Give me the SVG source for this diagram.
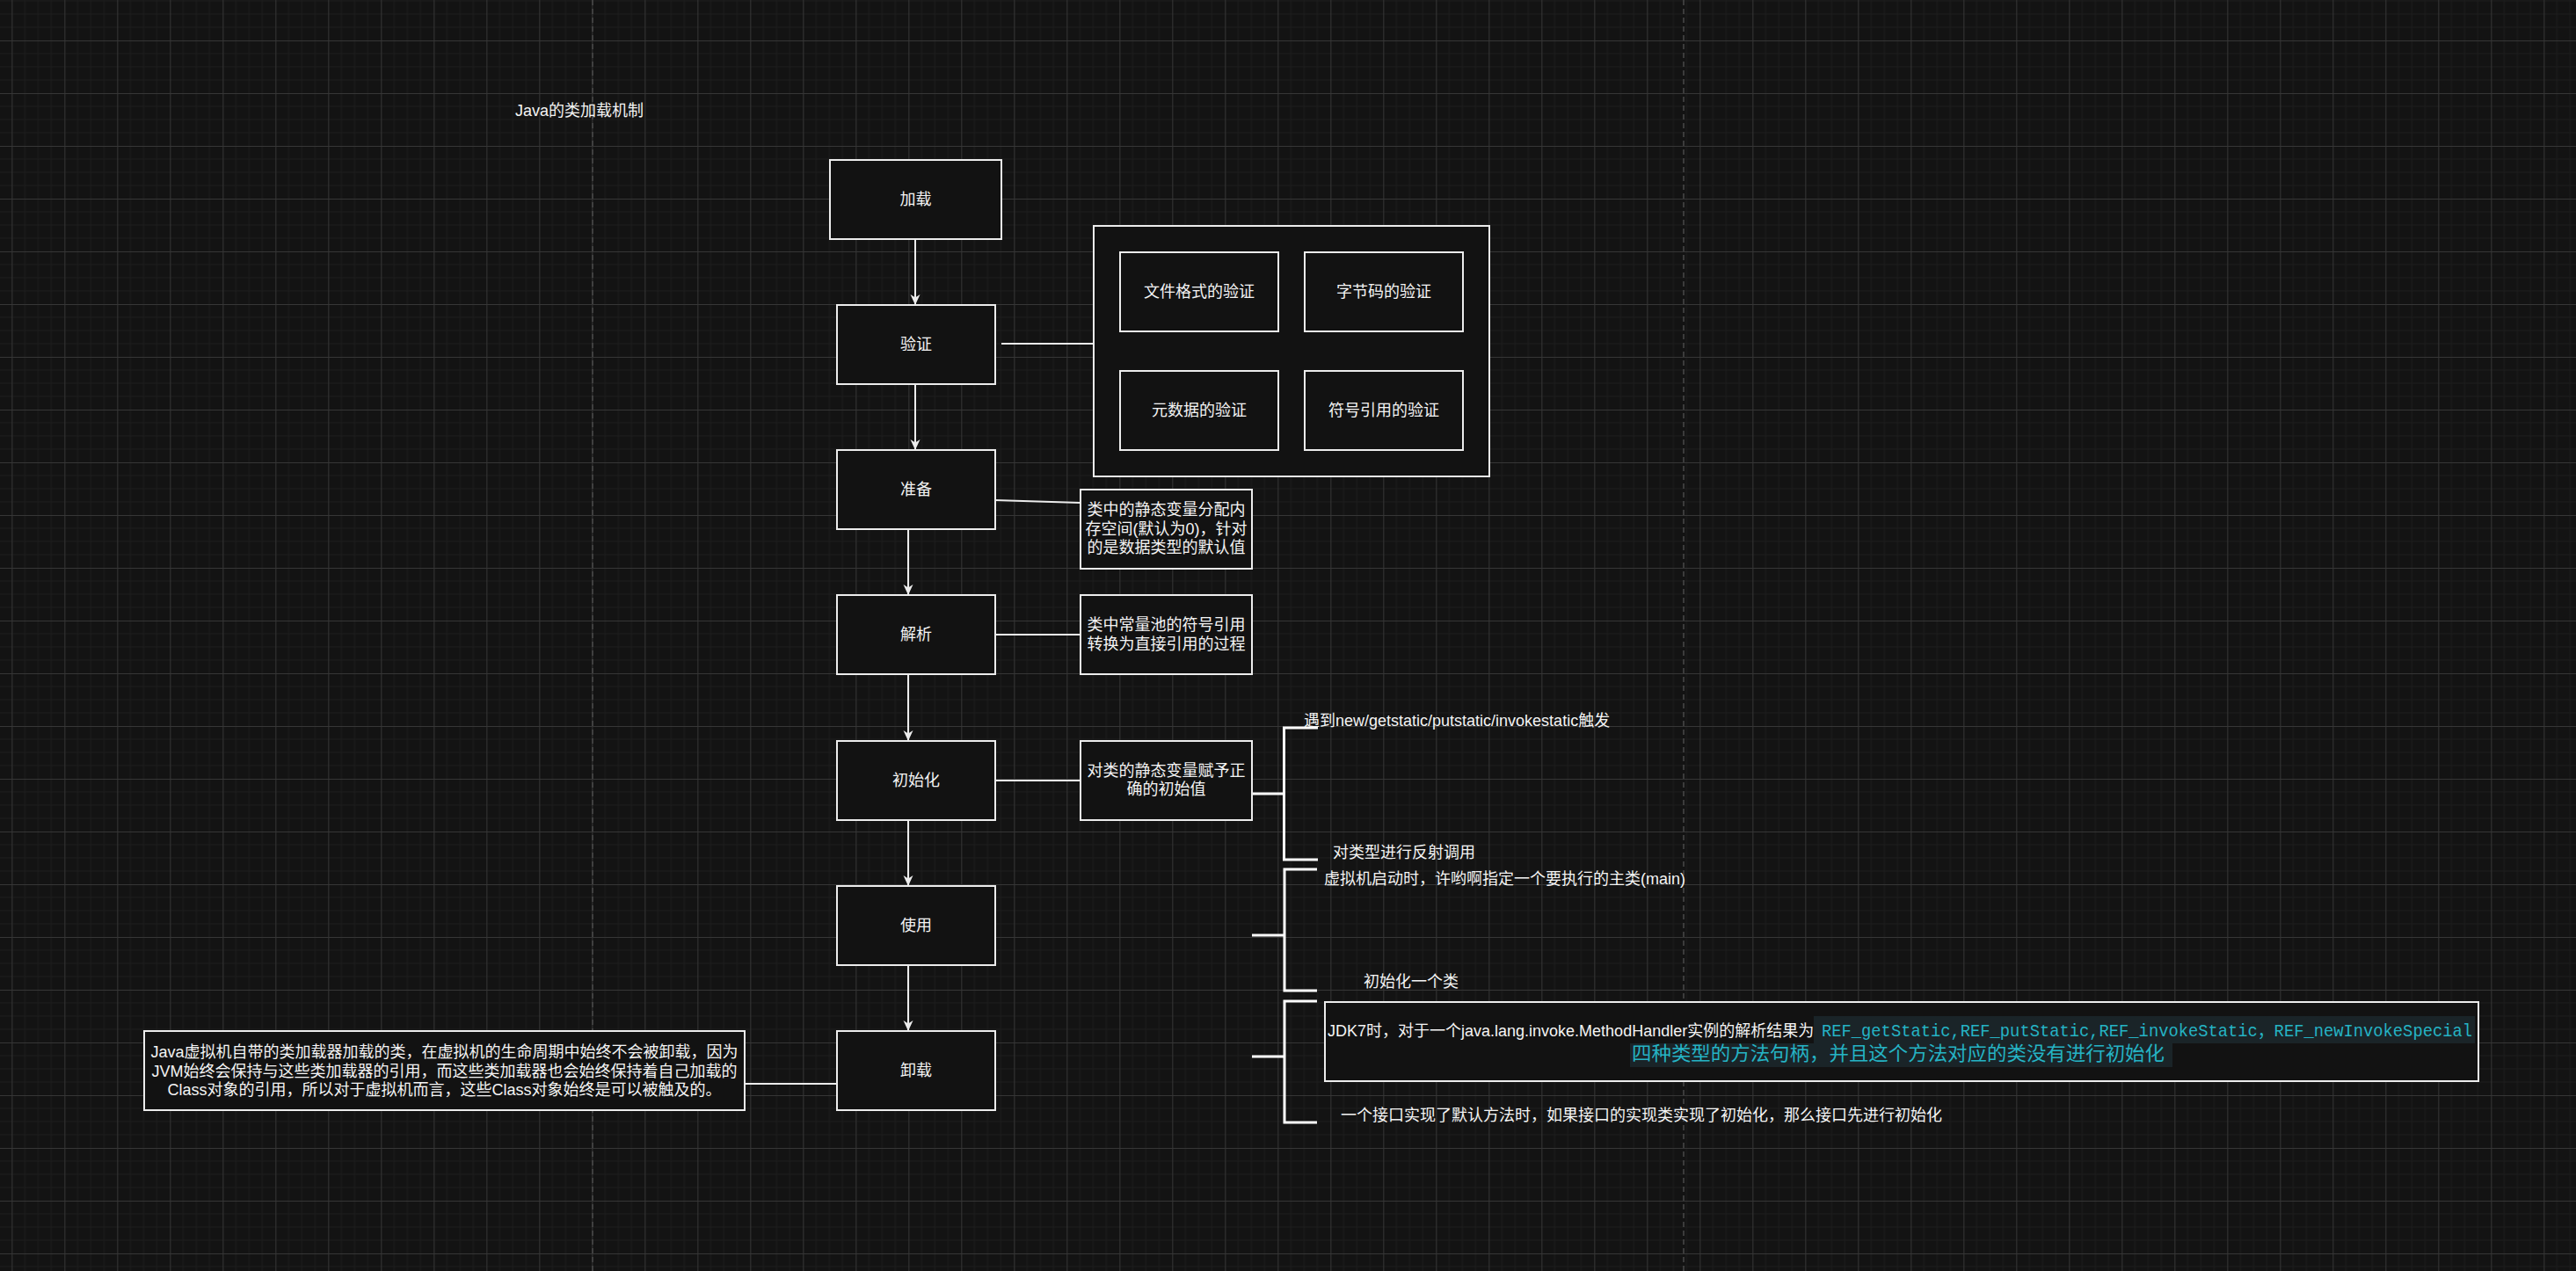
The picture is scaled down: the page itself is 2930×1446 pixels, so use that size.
<svg xmlns="http://www.w3.org/2000/svg" width="2930" height="1446" viewBox="0 0 2930 1446">
<defs>
<pattern id="grid" patternUnits="userSpaceOnUse" x="13.33" y="46" width="60" height="60">
<path d="M15,0V60M30,0V60M45,0V60M0,15H60M0,30H60M0,45H60" stroke="#1d1d1d" stroke-width="1" fill="none"/>
<path d="M0.5,0V60M0,0.5H60" stroke="#363636" stroke-width="1" fill="none"/>
</pattern>
<marker id="arr" viewBox="0 0 12 12" refX="12" refY="6" markerWidth="12" markerHeight="12" markerUnits="userSpaceOnUse" orient="auto">
<path d="M0,0.5 L12,6 L0,11.5 L3.5,6 Z" fill="#ececec"/>
</marker>
<style>
.box{fill:#121212;stroke:#ececec;stroke-width:2}
.t{font-family:"Liberation Sans","Noto Sans CJK SC",sans-serif;font-size:18px;fill:#f4f4f4}
.c{text-anchor:middle}
.ln{stroke:#ececec;stroke-width:2;fill:none}
.br{stroke:#ffffff;stroke-width:3;fill:none}
.cy{font-family:"Liberation Mono","Noto Sans CJK SC",monospace;fill:#25b3c4}
.pg{stroke:#4a4a4a;stroke-width:1.5;stroke-dasharray:6 4}
</style>
</defs>
<rect width="2930" height="1446" fill="#131313"/>
<rect width="2930" height="1446" fill="url(#grid)"/>
<line class="pg" x1="674" y1="0" x2="674" y2="1446"/>
<line class="pg" x1="1915" y1="0" x2="1915" y2="1446"/>

<g id="title"><text class="t" x="586" y="132">Java的类加载机制</text></g>

<g id="connectors">
<line class="ln" x1="1041" y1="273" x2="1041" y2="347" marker-end="url(#arr)"/>
<line class="ln" x1="1041" y1="438" x2="1041" y2="512" marker-end="url(#arr)"/>
<line class="ln" x1="1033" y1="603" x2="1033" y2="677" marker-end="url(#arr)"/>
<line class="ln" x1="1033" y1="768" x2="1033" y2="843" marker-end="url(#arr)"/>
<line class="ln" x1="1033" y1="934" x2="1033" y2="1008" marker-end="url(#arr)"/>
<line class="ln" x1="1033" y1="1099" x2="1033" y2="1173" marker-end="url(#arr)"/>
<line class="ln" x1="1139" y1="391" x2="1244" y2="391"/>
<line class="ln" x1="1131" y1="569" x2="1229" y2="572"/>
<line class="ln" x1="1132" y1="722" x2="1229" y2="722"/>
<line class="ln" x1="1132" y1="888" x2="1229" y2="888"/>
<line class="ln" x1="952" y1="1233" x2="847" y2="1233"/>
<line class="br" x1="1424" y1="903" x2="1460" y2="903"/>
<path class="br" d="M1499,828H1460.5V978H1499"/>
<line class="br" x1="1424" y1="1064" x2="1461" y2="1064"/>
<path class="br" d="M1498,989H1461V1127H1498"/>
<line class="br" x1="1424" y1="1202" x2="1461" y2="1202"/>
<path class="br" d="M1498,1139H1461V1277H1498"/>
</g>

<g id="n-load"><rect class="box" x="944" y="182" width="195" height="90"/><text class="t c" x="1041.5" y="233">加载</text></g>
<g id="n-verify"><rect class="box" x="952" y="347" width="180" height="90"/><text class="t c" x="1042" y="398">验证</text></g>
<g id="n-verify-group">
<rect class="box" x="1244" y="257" width="450" height="285"/>
<g id="n-v1"><rect class="box" x="1274" y="287" width="180" height="90"/><text class="t c" x="1364" y="338">文件格式的验证</text></g>
<g id="n-v2"><rect class="box" x="1484" y="287" width="180" height="90"/><text class="t c" x="1574" y="338">字节码的验证</text></g>
<g id="n-v3"><rect class="box" x="1274" y="422" width="180" height="90"/><text class="t c" x="1364" y="473">元数据的验证</text></g>
<g id="n-v4"><rect class="box" x="1484" y="422" width="180" height="90"/><text class="t c" x="1574" y="473">符号引用的验证</text></g>
</g>
<g id="n-prepare"><rect class="box" x="952" y="512" width="180" height="90"/><text class="t c" x="1042" y="563">准备</text></g>
<g id="n-prepare-note"><rect class="box" x="1229" y="557" width="195" height="90"/>
<text class="t c" x="1326.5" y="586">类中的静态变量分配内</text>
<text class="t c" x="1326.5" y="608">存空间(默认为0)，针对</text>
<text class="t c" x="1326.5" y="629">的是数据类型的默认值</text></g>
<g id="n-resolve"><rect class="box" x="952" y="677" width="180" height="90"/><text class="t c" x="1042" y="728">解析</text></g>
<g id="n-resolve-note"><rect class="box" x="1229" y="677" width="195" height="90"/>
<text class="t c" x="1326.5" y="717">类中常量池的符号引用</text>
<text class="t c" x="1326.5" y="739">转换为直接引用的过程</text></g>
<g id="n-init"><rect class="box" x="952" y="843" width="180" height="90"/><text class="t c" x="1042" y="894">初始化</text></g>
<g id="n-init-note"><rect class="box" x="1229" y="843" width="195" height="90"/>
<text class="t c" x="1326.5" y="883">对类的静态变量赋予正</text>
<text class="t c" x="1326.5" y="904">确的初始值</text></g>
<g id="n-use"><rect class="box" x="952" y="1008" width="180" height="90"/><text class="t c" x="1042" y="1059">使用</text></g>
<g id="n-unload"><rect class="box" x="952" y="1173" width="180" height="90"/><text class="t c" x="1042" y="1224">卸载</text></g>
<g id="n-unload-note"><rect class="box" x="164" y="1173" width="683" height="90"/>
<text class="t c" x="505.5" y="1203">Java虚拟机自带的类加载器加载的类，在虚拟机的生命周期中始终不会被卸载，因为</text>
<text class="t c" x="505.5" y="1224.5">JVM始终会保持与这些类加载器的引用，而这些类加载器也会始终保持着自己加载的</text>
<text class="t c" x="505.5" y="1246">Class对象的引用，所以对于虚拟机而言，这些Class对象始终是可以被触及的。</text></g>

<g id="n-trigger1"><text class="t" x="1483" y="826">遇到new/getstatic/putstatic/invokestatic触发</text></g>
<g id="n-trigger2"><text class="t" x="1516" y="976">对类型进行反射调用</text></g>
<g id="n-trigger3"><text class="t" x="1506" y="1006">虚拟机启动时，许哟啊指定一个要执行的主类(main)</text></g>
<g id="n-trigger4"><text class="t" x="1551" y="1123">初始化一个类</text></g>
<g id="n-trigger5"><rect class="box" x="1507" y="1140" width="1312" height="90"/>
<rect x="2063" y="1156" width="752" height="31" fill="#1a2428"/>
<rect x="1854" y="1187" width="617" height="27" fill="#1a2428"/>
<text class="t" x="1510" y="1179">JDK7时，对于一个java.lang.invoke.MethodHandler实例的解析结果为</text>
<text class="cy" x="2072" y="1179" font-size="21" textLength="740" lengthAdjust="spacingAndGlyphs">REF_getStatic,REF_putStatic,REF_invokeStatic，REF_newInvokeSpecial</text>
<text class="cy" x="1856" y="1206" font-size="22" textLength="606" lengthAdjust="spacingAndGlyphs">四种类型的方法句柄，并且这个方法对应的类没有进行初始化</text></g>
<g id="n-trigger6"><text class="t" x="1525" y="1275">一个接口实现了默认方法时，如果接口的实现类实现了初始化，那么接口先进行初始化</text></g>
</svg>
